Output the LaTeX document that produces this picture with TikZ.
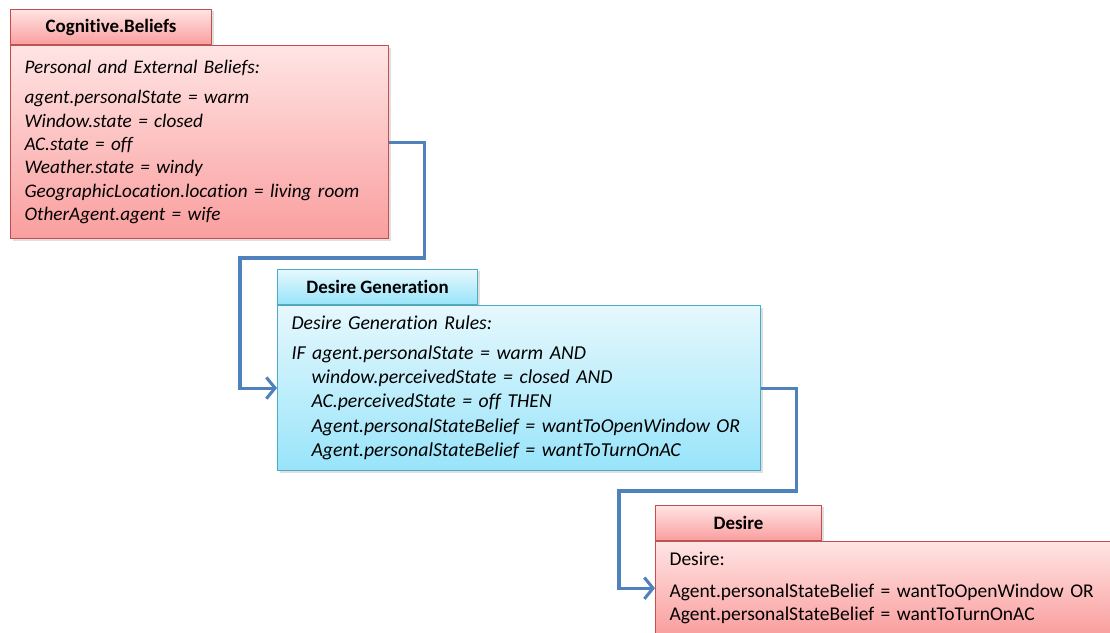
\documentclass[tikz,border=0pt]{standalone}
\usepackage{fontspec}
\setmainfont{Carlito}[Ligatures=NoCommon]
\usepackage{xcolor}
\usepackage{tikz}
\usetikzlibrary{positioning, calc, arrows.meta, shadows}

\definecolor{redtop}{RGB}{255,228,228}
\definecolor{redbot}{RGB}{250,158,158}
\definecolor{redline}{RGB}{196,78,78}
\definecolor{cyantop}{RGB}{230,248,253}
\definecolor{cyanbot}{RGB}{152,228,250}
\definecolor{cyanline}{RGB}{75,172,198}
\definecolor{linkblue}{RGB}{79,129,189}

\tikzset{
  boxshadow/.style={drop shadow={opacity=0.25, shadow xshift=1.5pt, shadow yshift=-1.5pt}},
  redbox/.style={draw=redline, line width=0.8pt, top color=redtop, bottom color=redbot, boxshadow},
  cyanbox/.style={draw=cyanline, line width=0.8pt, top color=cyantop, bottom color=cyanbot, boxshadow},
  body/.style={rectangle, anchor=north west, inner xsep=10.5pt, inner ysep=2pt, align=left,
    font=\fontsize{14.6}{17.5}\selectfont},
  title/.style={rectangle, anchor=south west, minimum height=26.25pt, inner sep=0pt,
    font=\fontsize{14.2}{17}\selectfont\bfseries},
  link/.style={draw=linkblue, line width=2.3pt, -{Straight Barb[length=6.5pt,width=16pt]}}
}

\begin{document}
\begin{tikzpicture}[x=0.75pt, y=-0.75pt]
  % page frame
  \clip (0,0) rectangle (1110,632);

  % Cognitive beliefs
  \node[body, redbox, text width=262.5pt, minimum height=144.75pt, font=\fontsize{14.4}{17.5}\selectfont\itshape] (beliefs) at (10,45)
    {Personal and External Beliefs:\\[5pt]
     agent.personalState = warm\\
     Window.state = closed\\
     AC.state = off\\
     Weather.state = windy\\
     GeographicLocation.location = living room\\
     OtherAgent.agent = wife};
  \node[title, redbox, minimum width=150.75pt] (beliefsT) at (beliefs.north west) {Cognitive.Beliefs};

  % Desire generation
  \node[body, cyanbox, text width=341.25pt, minimum height=123.75pt, font=\fontsize{14.8}{18.2}\selectfont\itshape] (generation) at (277,305)
    {Desire Generation Rules:\\[4pt]
     IF agent.personalState = warm AND\\
     \hspace*{15pt}window.perceivedState = closed AND\\
     \hspace*{15pt}AC.perceivedState = off THEN\\
     \hspace*{15pt}Agent.personalStateBelief = wantToOpenWindow OR\\
     \hspace*{15pt}Agent.personalStateBelief = wantToTurnOnAC};
  \node[title, cyanbox, minimum width=150pt] (generationT) at (generation.north west) {Desire Generation};

  % Desire
  \node[body, redbox, text width=360pt, minimum height=70pt] (desire) at (655,541)
    {Desire:\\[6pt]
     Agent.personalStateBelief = wantToOpenWindow OR\\
     Agent.personalStateBelief = wantToTurnOnAC};
  \node[title, redbox, minimum width=124.5pt] (desireT) at (desire.north west) {Desire};

  % Connectors
  \coordinate (bend1) at (240,258);
  \coordinate (bend2) at (619,491);
  \draw[link] (beliefs.east) -- ++(35,0) |- (bend1) |- (generation.west);
  \draw[link] (generation.east) -- ++(35,0) |- (bend2) |- (desire.west);
\end{tikzpicture}
\end{document}
